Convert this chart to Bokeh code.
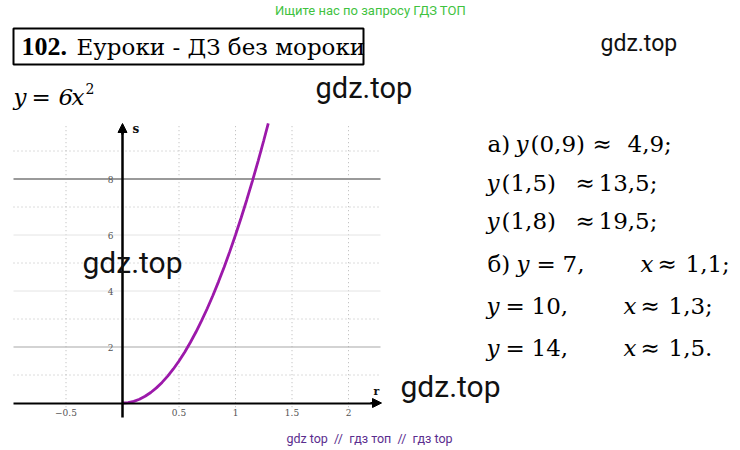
from bokeh.plotting import figure
from bokeh.models import (Range1d, LinearAxis, FixedTicker, Label, BoxAnnotation,
                          Arrow, NormalHead)
from bokeh.embed import file_html
from bokeh.resources import INLINE

# --- data -------------------------------------------------------------
# y = 6x^2, sampled points of the parabola
curve_x = [0, 0.05, 0.1, 0.15, 0.2, 0.25, 0.3, 0.35, 0.4, 0.45, 0.5, 0.55, 0.6,
           0.65, 0.7, 0.75, 0.8, 0.85, 0.9, 0.95, 1.0, 1.05, 1.1, 1.15, 1.2,
           1.25, 1.29]
curve_y = [0, 0.015, 0.06, 0.135, 0.24, 0.375, 0.54, 0.735, 0.96, 1.215, 1.5,
           1.815, 2.16, 2.535, 2.94, 3.375, 3.84, 4.335, 4.86, 5.415, 6.0,
           6.615, 7.26, 7.935, 8.64, 9.375, 9.985]

x_ticks = [-0.5, 0.5, 1, 1.5, 2]
y_ticks = [2, 4, 6, 8]
dotted_h = [1, 3, 5, 7, 9]
solid_h = [2, 4, 6, 8]
solid_h_colors = ["#a8a8a8", "#e4e4e4", "#e4e4e4", "#9a9a9a"]
solid_h_widths = [1.2, 1, 1, 2.2]

# --- pixel <-> data helpers (origin of the graph and unit sizes) -------
OX, OY = 122.0, 402.5
UX, UY = 113.0, 28.0
W, H = 740, 450


def X(px):
    return (px - OX) / UX


def Y(py):
    return (OY - py) / UY


p = figure(width=W, height=H, x_range=Range1d(X(0), X(W)), y_range=Range1d(Y(H), Y(0)),
           x_axis_location=None, y_axis_location=None, min_border=0,
           toolbar_location=None, output_backend="svg")
p.outline_line_color = None
p.background_fill_color = "white"
p.border_fill_color = "white"
p.xgrid.visible = False
p.ygrid.visible = False

gx0, gx1 = X(13), X(380)
gy0, gy1 = -0.15, Y(123)

# dotted grid
p.segment(x0=gx0, x1=gx1, y0=dotted_h, y1=dotted_h, line_color="#b8b8b8",
          line_width=1, line_dash="1 3")
p.segment(x0=x_ticks, x1=x_ticks, y0=gy0, y1=gy1, line_color="#b8b8b8",
          line_width=1, line_dash="1 3")
# solid grid
p.segment(x0=gx0, x1=gx1, y0=solid_h, y1=solid_h,
          line_color=solid_h_colors, line_width=solid_h_widths)

# axes through the origin
xaxis = LinearAxis(fixed_location=0, bounds=(gx0, X(374)),
                   ticker=FixedTicker(ticks=x_ticks))
yaxis = LinearAxis(fixed_location=0, bounds=(Y(417), Y(130)),
                   ticker=FixedTicker(ticks=y_ticks))
for ax in (xaxis, yaxis):
    ax.axis_line_color = "black"
    ax.major_tick_line_color = None
    ax.minor_tick_line_color = None
    ax.major_label_text_font = "DejaVu Serif"
    ax.major_label_text_font_size = "9px"
    ax.major_label_text_color = "#555555"
xaxis.axis_line_width = 2
yaxis.axis_line_width = 2.5
xaxis.major_label_standoff = 0
yaxis.major_label_standoff = 3
p.add_layout(xaxis, "below")
p.add_layout(yaxis, "left")

p.add_layout(Arrow(end=NormalHead(size=9, fill_color="black", line_color="black"),
                   line_color="black", line_width=2,
                   x_start=X(370), y_start=0, x_end=X(381), y_end=0))
p.add_layout(Arrow(end=NormalHead(size=9, fill_color="black", line_color="black"),
                   line_color="black", line_width=2.5,
                   x_start=0, y_start=Y(134), x_end=0, y_end=Y(123)))
p.add_layout(Label(x=X(132), y=Y(128), text="s", text_font="DejaVu Serif",
                   text_font_size="12px", text_font_style="bold",
                   text_baseline="middle", text_color="#111111"))
p.add_layout(Label(x=X(373), y=Y(391), text="r", text_font="DejaVu Serif",
                   text_font_size="11px", text_font_style="bold",
                   text_baseline="middle", text_color="#111111"))

# parabola
p.line(curve_x, curve_y, line_color="#9c19aa", line_width=2.8)


def label(px, py, text, size, font="DejaVu Serif", style="normal", color="black",
          align="left"):
    p.add_layout(Label(x=X(px), y=Y(py), text=text, text_font=font,
                       text_font_size=f"{size}px", text_font_style=style,
                       text_color=color, text_baseline="middle", text_align=align))


NB = "\u00a0"

# header / footer
label(370, 10, "Ищите нас по запросу ГДЗ ТОП", 13, font="Roboto",
      color="#3fc23f", align="center")
label(369, 438, f"gdz top {NB}//{NB} гдз топ {NB}//{NB} гдз top", 12.5, font="Roboto",
      color="#5a2d8e", align="center")

# title box
p.add_layout(BoxAnnotation(left=X(13), right=X(363), top=Y(28), bottom=Y(64),
                           fill_color=None, fill_alpha=0, line_color="black",
                           line_alpha=1, line_width=2))
label(21, 46, "102.", 26, font="Liberation Serif", style="bold")
label(76, 46, "Еуроки - ДЗ без мороки", 23)

# formula
label(13, 96, "y", 23, style="italic")
label(31, 96, "=", 23)
label(58, 96, "6", 23, style="italic")
label(71, 96, "x", 23, style="italic")
label(85, 88, "2", 14)

# watermarks
label(315, 87, "gdz.top", 29, font="Roboto", color="#111111")
label(600, 43, "gdz.top", 23, font="Roboto", color="#111111")
label(82, 262, "gdz.top", 30, font="Roboto", color="#111111")
label(400, 386, "gdz.top", 30, font="Roboto", color="#111111")

# answers
SZ = 23
rows = [
    (143, [(487, "а)", "normal"), (515, "y", "italic"), (530, "(0,9)", "normal"),
           (592, "≈", "normal"), (627, "4,9;", "normal")]),
    (182, [(486, "y", "italic"), (501, "(1,5)", "normal"), (575, "≈", "normal"),
           (598, "13,5;", "normal")]),
    (220, [(486, "y", "italic"), (501, "(1,8)", "normal"), (575, "≈", "normal"),
           (598, "19,5;", "normal")]),
    (263, [(487, "б)", "normal"), (516, "y", "italic"), (536, "=", "normal"),
           (562, "7,", "normal"), (640, "x", "italic"), (657, "≈", "normal"),
           (685, "1,1;", "normal")]),
    (305, [(486, "y", "italic"), (505, "=", "normal"), (531, "10,", "normal"),
           (623, "x", "italic"), (640, "≈", "normal"), (668, "1,3;", "normal")]),
    (347, [(486, "y", "italic"), (505, "=", "normal"), (531, "14,", "normal"),
           (623, "x", "italic"), (640, "≈", "normal"), (668, "1,5.", "normal")]),
]
for py, parts in rows:
    for px, txt, st in parts:
        label(px, py, txt, SZ, style=st)

open("out.html", "w").write(file_html(p, INLINE))
